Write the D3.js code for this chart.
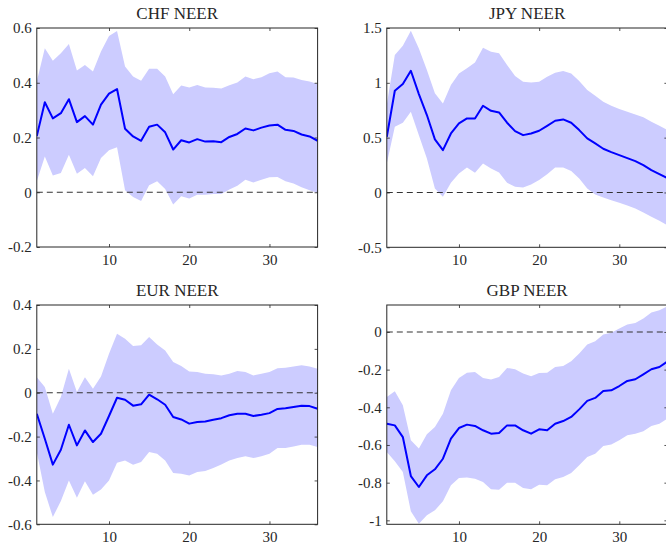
<!DOCTYPE html>
<html>
<head>
<meta charset="utf-8">
<script src="https://cdn.jsdelivr.net/npm/d3@7"></script>
<style>
html,body{margin:0;padding:0;background:#fff;}
svg{display:block;}
text{font-family:'Liberation Serif','DejaVu Serif',serif;fill:#262626;}
</style>
</head>
<body>
<svg id="chart" width="666" height="544"></svg>
<script>
// Horizon (periods)
const horizon = [1,2,3,4,5,6,7,8,9,10,11,12,13,14,15,16,17,18,19,20,21,22,23,24,25,26,27,28,29,30,31,32,33,34,35,36];

const panelTitles = ["CHF NEER", "JPY NEER", "EUR NEER", "GBP NEER"];

// CHF NEER
const chfMean  = [0.205,0.329,0.270,0.289,0.340,0.256,0.278,0.247,0.320,0.360,0.377,0.232,0.204,0.188,0.239,0.247,0.219,0.156,0.190,0.182,0.194,0.185,0.186,0.183,0.202,0.213,0.233,0.226,0.236,0.244,0.247,0.228,0.224,0.211,0.204,0.188];
const chfUpper = [0.405,0.526,0.480,0.508,0.542,0.445,0.465,0.441,0.514,0.571,0.589,0.459,0.423,0.407,0.451,0.451,0.423,0.358,0.390,0.383,0.392,0.383,0.382,0.379,0.391,0.401,0.423,0.413,0.420,0.435,0.441,0.420,0.419,0.410,0.405,0.395];
const chfLower = [0.040,0.131,0.061,0.070,0.137,0.068,0.089,0.058,0.125,0.153,0.164,0.007,-0.017,-0.032,0.026,0.040,0.012,-0.045,-0.015,-0.023,-0.009,-0.009,-0.006,-0.006,0.010,0.024,0.046,0.036,0.046,0.055,0.056,0.040,0.032,0.018,0.007,-0.003];

// JPY NEER
const jpyMean  = [0.508,0.928,0.989,1.110,0.897,0.706,0.484,0.386,0.538,0.630,0.675,0.675,0.791,0.745,0.730,0.636,0.560,0.523,0.538,0.563,0.608,0.654,0.666,0.636,0.569,0.493,0.447,0.399,0.368,0.341,0.313,0.286,0.249,0.204,0.167,0.131];
const jpyUpper = [0.800,1.253,1.339,1.476,1.314,1.117,0.904,0.812,0.980,1.086,1.132,1.186,1.320,1.284,1.269,1.162,1.062,1.010,1.004,1.010,1.056,1.092,1.107,1.086,1.016,0.934,0.882,0.828,0.791,0.761,0.736,0.712,0.685,0.645,0.608,0.569];
const jpyLower = [0.265,0.600,0.636,0.736,0.523,0.310,0.037,-0.040,0.088,0.173,0.228,0.180,0.265,0.219,0.183,0.088,0.052,0.046,0.073,0.113,0.167,0.228,0.228,0.195,0.128,0.037,-0.018,-0.046,-0.070,-0.094,-0.119,-0.146,-0.183,-0.222,-0.259,-0.298];

// EUR NEER
const eurMean  = [-0.096,-0.210,-0.328,-0.260,-0.146,-0.240,-0.172,-0.225,-0.187,-0.106,-0.023,-0.032,-0.059,-0.053,-0.009,-0.030,-0.055,-0.111,-0.122,-0.141,-0.134,-0.131,-0.123,-0.116,-0.103,-0.096,-0.096,-0.106,-0.100,-0.093,-0.074,-0.071,-0.065,-0.059,-0.061,-0.073];
const eurUpper = [0.071,0.026,-0.096,-0.020,0.109,0.003,0.071,0.018,0.074,0.178,0.269,0.246,0.213,0.216,0.254,0.220,0.193,0.140,0.122,0.097,0.094,0.087,0.084,0.079,0.087,0.099,0.094,0.079,0.087,0.094,0.112,0.114,0.120,0.125,0.120,0.109];
const eurLower = [-0.270,-0.453,-0.567,-0.494,-0.400,-0.479,-0.404,-0.465,-0.441,-0.400,-0.319,-0.309,-0.328,-0.316,-0.270,-0.278,-0.309,-0.366,-0.369,-0.377,-0.362,-0.357,-0.343,-0.327,-0.309,-0.298,-0.290,-0.298,-0.290,-0.278,-0.252,-0.252,-0.245,-0.237,-0.237,-0.248];

// GBP NEER
const gbpMean  = [-0.487,-0.496,-0.558,-0.765,-0.823,-0.761,-0.729,-0.673,-0.566,-0.510,-0.492,-0.499,-0.522,-0.540,-0.536,-0.496,-0.496,-0.522,-0.540,-0.517,-0.522,-0.487,-0.473,-0.451,-0.411,-0.366,-0.350,-0.313,-0.310,-0.287,-0.260,-0.251,-0.225,-0.198,-0.186,-0.157];
const gbpUpper = [-0.345,-0.315,-0.389,-0.575,-0.619,-0.543,-0.504,-0.434,-0.310,-0.244,-0.216,-0.212,-0.244,-0.253,-0.239,-0.191,-0.198,-0.221,-0.235,-0.218,-0.216,-0.186,-0.181,-0.156,-0.115,-0.067,-0.050,-0.014,-0.004,0.018,0.039,0.048,0.071,0.103,0.115,0.136];
const gbpLower = [-0.637,-0.687,-0.743,-0.952,-1.018,-0.973,-0.947,-0.899,-0.814,-0.775,-0.773,-0.779,-0.796,-0.835,-0.837,-0.800,-0.800,-0.828,-0.835,-0.811,-0.814,-0.782,-0.770,-0.749,-0.708,-0.664,-0.646,-0.605,-0.598,-0.575,-0.549,-0.540,-0.527,-0.499,-0.487,-0.460];

// Axis limits and ticks
const xDomain = [1, 36];
const xTicks = [10, 20, 30];
const yDomains = [[-0.2, 0.6], [-0.5, 1.5], [-0.6, 0.4], [-1.021, 0.143]];
const yTicks = [
  [-0.2, 0, 0.2, 0.4, 0.6],
  [-0.5, 0, 0.5, 1, 1.5],
  [-0.6, -0.4, -0.2, 0, 0.2, 0.4],
  [-1, -0.8, -0.6, -0.4, -0.2, 0]
];
const yTickLabels = [
  ["-0.2", "0", "0.2", "0.4", "0.6"],
  ["-0.5", "0", "0.5", "1", "1.5"],
  ["-0.6", "-0.4", "-0.2", "0", "0.2", "0.4"],
  ["-1", "-0.8", "-0.6", "-0.4", "-0.2", "0"]
];

const meansAll = [chfMean, jpyMean, eurMean, gbpMean];
const uppersAll = [chfUpper, jpyUpper, eurUpper, gbpUpper];
const lowersAll = [chfLower, jpyLower, eurLower, gbpLower];

// Layout (pixel boxes of each axes)
const boxes = [
  {x0: 36.8, x1: 317.6, y0: 28, y1: 247},
  {x0: 386.8, x1: 667.4, y0: 28, y1: 247.3},
  {x0: 36.8, x1: 317.6, y0: 305, y1: 524.3},
  {x0: 386.8, x1: 667.4, y0: 305, y1: 524.3}
];

const svg = d3.select("#chart");
const axisColor = "#262626";
const fontStack = "'Liberation Serif','DejaVu Serif',serif";

boxes.forEach((b, i) => {
  const x = d3.scaleLinear().domain(xDomain).range([b.x0, b.x1]);
  const y = d3.scaleLinear().domain(yDomains[i]).range([b.y1, b.y0]);
  const g = svg.append("g");

  const clipId = "clip" + i;
  svg.append("clipPath").attr("id", clipId)
    .append("rect").attr("x", b.x0).attr("y", b.y0)
    .attr("width", b.x1 - b.x0).attr("height", b.y1 - b.y0);

  const plot = g.append("g").attr("clip-path", `url(#${clipId})`);
  const data = horizon.map((h, k) => ({h, m: meansAll[i][k], u: uppersAll[i][k], l: lowersAll[i][k]}));

  plot.append("path").datum(data)
    .attr("d", d3.area().x(d => x(d.h)).y0(d => y(d.l)).y1(d => y(d.u)))
    .attr("fill", "#ccccff").attr("stroke", "none");

  plot.append("line")
    .attr("x1", x(xDomain[0])).attr("x2", x(xDomain[1]))
    .attr("y1", y(0)).attr("y2", y(0))
    .attr("stroke", "#333").attr("stroke-width", 1.1)
    .attr("stroke-dasharray", "6,4");

  plot.append("path").datum(data)
    .attr("d", d3.line().x(d => x(d.h)).y(d => y(d.m)))
    .attr("fill", "none").attr("stroke", "#0000ff").attr("stroke-width", 2)
    .attr("stroke-linejoin", "round");

  // Axes
  const styleAxis = (sel, showLabels) => {
    sel.attr("font-family", null).attr("font-size", null);
    sel.select(".domain").remove();
    sel.selectAll(".tick line").attr("stroke", axisColor).attr("stroke-width", 0.8);
    sel.selectAll(".tick text")
      .style("font-family", fontStack)
      .style("font-size", "15px").attr("fill", axisColor);
    if (!showLabels) sel.selectAll(".tick text").remove();
  };

  const bottom = g.append("g").attr("transform", `translate(0,${b.y1})`)
    .call(d3.axisBottom(x).tickValues(xTicks).tickSize(-3).tickPadding(7).tickFormat(d3.format("d")));
  styleAxis(bottom, true);

  const top = g.append("g").attr("transform", `translate(0,${b.y0})`)
    .call(d3.axisTop(x).tickValues(xTicks).tickSize(-3));
  styleAxis(top, false);

  const left = g.append("g").attr("transform", `translate(${b.x0},0)`)
    .call(d3.axisLeft(y).tickValues(yTicks[i]).tickSize(-3).tickPadding(5)
      .tickFormat((d, k) => yTickLabels[i][k]));
  styleAxis(left, true);

  const right = g.append("g").attr("transform", `translate(${b.x1},0)`)
    .call(d3.axisRight(y).tickValues(yTicks[i]).tickSize(-3));
  styleAxis(right, false);

  // Box
  g.append("rect")
    .attr("x", b.x0).attr("y", b.y0)
    .attr("width", b.x1 - b.x0).attr("height", b.y1 - b.y0)
    .attr("fill", "none").attr("stroke", axisColor).attr("stroke-width", 1);

  // Title
  g.append("text")
    .attr("x", (b.x0 + b.x1) / 2).attr("y", b.y0 - 9)
    .attr("text-anchor", "middle")
    .style("font-family", fontStack)
    .style("font-size", "17px")
    .attr("fill", "#111")
    .text(panelTitles[i]);
});
</script>
</body>
</html>
